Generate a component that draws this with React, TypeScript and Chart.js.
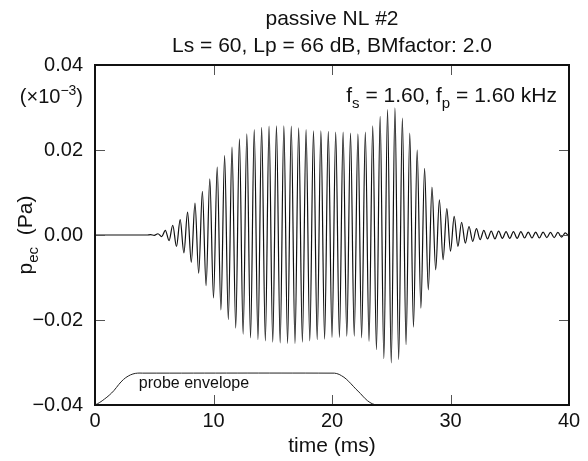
import React, { useEffect, useRef } from "react";
import { Chart, registerables } from "chart.js";

Chart.register(...registerables);

// ---------------- data ----------------
const TITLE_LINES = ["passive NL #2", "Ls = 60, Lp = 66 dB, BMfactor: 2.0"];
const X_TITLE = "time (ms)";
const X_TICKS = [0, 10, 20, 30, 40];
const Y_TICKS = [-0.04, -0.02, 0, 0.02, 0.04];
const CARRIER_KHZ = 1.6; // f_s = f_p = 1.60 kHz

// positive peaks, one per carrier cycle (Pa), cycle k centred at (k + 0.5) / f
const UPPER_PEAKS = [
  0, 0, 0, 0, 0, 0, 0, 0.0001, 0.0003, 0.0011,
  0.0023, 0.0036, 0.0054, 0.0075, 0.0103, 0.0132, 0.016, 0.0187, 0.0207, 0.0226,
  0.0238, 0.0248, 0.0253, 0.0256, 0.0257, 0.0257, 0.0256, 0.0252, 0.0248, 0.0245,
  0.0245, 0.0244, 0.0242, 0.0242, 0.024, 0.0238, 0.0242, 0.0257, 0.0279, 0.0295,
  0.0299, 0.0275, 0.024, 0.02, 0.0157, 0.0113, 0.0083, 0.0062, 0.0044, 0.003,
  0.002, 0.0015, 0.0011, 0.0009, 0.0009, 0.0008, 0.0008, 0.0008, 0.0007, 0.0007,
  0.0007, 0.0006, 0.0006, 0.0005,
];
// negative troughs, at k / f
const LOWER_TROUGHS = [
  0, 0, 0, 0, 0, 0, 0, 0, -0.0001, -0.0004,
  -0.0013, -0.0027, -0.0042, -0.0064, -0.009, -0.0119, -0.0148, -0.0176, -0.0199, -0.0219,
  -0.0233, -0.0242, -0.0246, -0.0249, -0.0252, -0.0254, -0.0255, -0.0255, -0.0252, -0.0249,
  -0.0246, -0.0245, -0.0241, -0.0241, -0.0238, -0.0238, -0.0242, -0.025, -0.027, -0.0291,
  -0.0301, -0.0293, -0.0258, -0.0217, -0.0172, -0.0129, -0.0082, -0.0058, -0.0038, -0.0027,
  -0.0019, -0.0015, -0.0011, -0.0009, -0.0009, -0.0008, -0.0008, -0.0008, -0.0007, -0.0007,
  -0.0007, -0.0006, -0.0006, -0.0005, -0.0004,
];

// probe envelope (drawn in pressure units near the bottom of the panel)
const ENV_TIMES = [0, 0.4, 0.8, 1.2, 1.6, 2.0, 2.4, 2.8, 3.2, 3.6, 4.0,
  20.0, 20.4, 20.8, 21.2, 21.6, 22.0, 22.4, 22.8, 23.2, 23.6, 24.0];
const ENV_VALUES = [-0.04, -0.0394, -0.0386, -0.0377, -0.0366, -0.0352, -0.0340, -0.0332, -0.0327, -0.0325, -0.0325,
  -0.0325, -0.0326, -0.0331, -0.0339, -0.0350, -0.0362, -0.0373, -0.0385, -0.0394, -0.0399, -0.04];
const ENV_LABEL = "probe envelope";

// --------------- styling ---------------
const FONT = "'Liberation Sans', Arial, Helvetica, sans-serif";
const INK = "#111";

function buildWave() {
  const period = 1 / CARRIER_KHZ;
  const pts: { x: number; y: number }[] = [];
  for (let k = 0; k < LOWER_TROUGHS.length; k++) {
    pts.push({ x: k * period, y: LOWER_TROUGHS[k] });
    if (k < UPPER_PEAKS.length) pts.push({ x: (k + 0.5) * period, y: UPPER_PEAKS[k] });
  }
  return pts;
}

type Part = { t: string; sub?: boolean; sup?: boolean };

function richWidth(ctx: CanvasRenderingContext2D, parts: Part[], size: number) {
  let w = 0;
  for (const p of parts) {
    const s = p.sub || p.sup ? Math.round(size * 0.7) : size;
    ctx.font = `${s}px ${FONT}`;
    w += ctx.measureText(p.t).width;
  }
  return w;
}

function drawRich(ctx: CanvasRenderingContext2D, parts: Part[], x: number, y: number, size: number) {
  let cx = x;
  ctx.textBaseline = "alphabetic";
  ctx.textAlign = "left";
  for (const p of parts) {
    const s = p.sub || p.sup ? Math.round(size * 0.7) : size;
    ctx.font = `${s}px ${FONT}`;
    const dy = p.sub ? size * 0.28 : p.sup ? -size * 0.42 : 0;
    ctx.fillText(p.t, cx, y + dy);
    cx += ctx.measureText(p.t).width;
  }
}

const decorPlugin = {
  id: "decor",
  afterDraw(chart: any) {
    const { ctx, chartArea: a, scales } = chart;
    const xs = scales.x;
    const ys = scales.y;
    ctx.save();
    // inward tick marks on all four sides
    ctx.strokeStyle = "#555";
    ctx.lineWidth = 1;
    const TL = 10;
    ctx.beginPath();
    for (const v of X_TICKS.slice(1, -1)) {
      const px = Math.round(xs.getPixelForValue(v)) + 0.5;
      ctx.moveTo(px, a.bottom);
      ctx.lineTo(px, a.bottom - TL);
      ctx.moveTo(px, a.top);
      ctx.lineTo(px, a.top + TL);
    }
    for (const v of Y_TICKS.slice(1, -1)) {
      const py = Math.round(ys.getPixelForValue(v)) + 0.5;
      ctx.moveTo(a.left, py);
      ctx.lineTo(a.left + TL, py);
      ctx.moveTo(a.right, py);
      ctx.lineTo(a.right - TL, py);
    }
    ctx.stroke();
    // frame
    ctx.strokeStyle = INK;
    ctx.lineWidth = 2;
    ctx.strokeRect(a.left, a.top, a.right - a.left, a.bottom - a.top);

    ctx.fillStyle = INK;
    // titles
    const cx = (a.left + a.right) / 2;
    ctx.font = `21px ${FONT}`;
    ctx.textAlign = "center";
    ctx.textBaseline = "alphabetic";
    ctx.fillText(TITLE_LINES[0], cx, 25);
    ctx.fillText(TITLE_LINES[1], cx, 52);

    // y-axis title, rotated
    const yParts: Part[] = [{ t: "p" }, { t: "ec", sub: true }, { t: "  (Pa)" }];
    const yw = richWidth(ctx, yParts, 21);
    ctx.save();
    ctx.translate(32, (a.top + a.bottom) / 2);
    ctx.rotate(-Math.PI / 2);
    drawRich(ctx, yParts, -yw / 2, 0, 21);
    ctx.restore();

    // multiplier note under top tick label
    const mParts: Part[] = [{ t: "(×10" }, { t: "−3", sup: true }, { t: ")" }];
    const mw = richWidth(ctx, mParts, 20);
    drawRich(ctx, mParts, 83 - mw, 103, 20);

    // frequency annotation
    const fParts: Part[] = [
      { t: "f" }, { t: "s", sub: true }, { t: " = 1.60, f" }, { t: "p", sub: true }, { t: " = 1.60 kHz" },
    ];
    const fw = richWidth(ctx, fParts, 21);
    drawRich(ctx, fParts, a.right - 12 - fw, 102, 21);

    // probe envelope label
    ctx.font = `16px ${FONT}`;
    ctx.textAlign = "left";
    ctx.fillText(ENV_LABEL, xs.getPixelForValue(3.7), 388);
    ctx.restore();
  },
};

export default function App() {
  const ref = useRef<HTMLCanvasElement | null>(null);
  useEffect(() => {
    if (!ref.current) return;
    Chart.defaults.font.family = FONT;
    Chart.defaults.color = INK;
    const chart = new Chart(ref.current, {
      type: "line",
      data: {
        datasets: [
          {
            label: "p_ec",
            data: buildWave(),
            borderColor: "#111",
            borderWidth: 1.2,
            pointRadius: 0,
            cubicInterpolationMode: "monotone",
            fill: false,
          },
          {
            label: ENV_LABEL,
            data: ENV_TIMES.map((t, i) => ({ x: t, y: ENV_VALUES[i] })),
            borderColor: "#222",
            borderWidth: 1,
            pointRadius: 0,
            tension: 0.4,
            fill: false,
            clip: 4,
          } as any,
        ],
      },
      options: {
        animation: false,
        responsive: false,
        devicePixelRatio: 1,
        layout: { padding: { left: 0, right: 19, top: 65, bottom: 0 } },
        plugins: { legend: { display: false }, tooltip: { enabled: false }, title: { display: false } },
        scales: {
          x: {
            type: "linear",
            min: 0,
            max: 40,
            grid: { display: false, drawTicks: false },
            border: { display: false },
            afterBuildTicks: (s: any) => { s.ticks = X_TICKS.map((v) => ({ value: v })); },
            afterFit: (s: any) => { s.height = 56; },
            ticks: { font: { size: 20 }, padding: 4, color: INK, maxRotation: 0, callback: (v: any) => String(v) },
            title: { display: true, text: X_TITLE, font: { size: 21 }, color: INK, padding: { top: 0, bottom: 2 } },
          },
          y: {
            type: "linear",
            min: -0.04,
            max: 0.04,
            grid: { display: false, drawTicks: false },
            border: { display: false },
            afterBuildTicks: (s: any) => { s.ticks = Y_TICKS.map((v) => ({ value: v })); },
            afterFit: (s: any) => { s.width = 95; },
            ticks: {
              font: { size: 20 },
              padding: 12,
              color: INK,
              callback: (v: any) => {
                const n = Number(v);
                if (Math.abs(n) < 1e-9) return "0.00";
                return n.toFixed(2).replace("-", "\u2212");
              },
            },
          },
        },
      },
      plugins: [decorPlugin],
    });
    return () => chart.destroy();
  }, []);
  return (
    <div style={{ position: "fixed", left: 0, top: 0, width: 588, height: 461, background: "#fff" }}>
      <canvas ref={ref} width={588} height={461} style={{ width: 588, height: 461, display: "block" }} />
    </div>
  );
}
